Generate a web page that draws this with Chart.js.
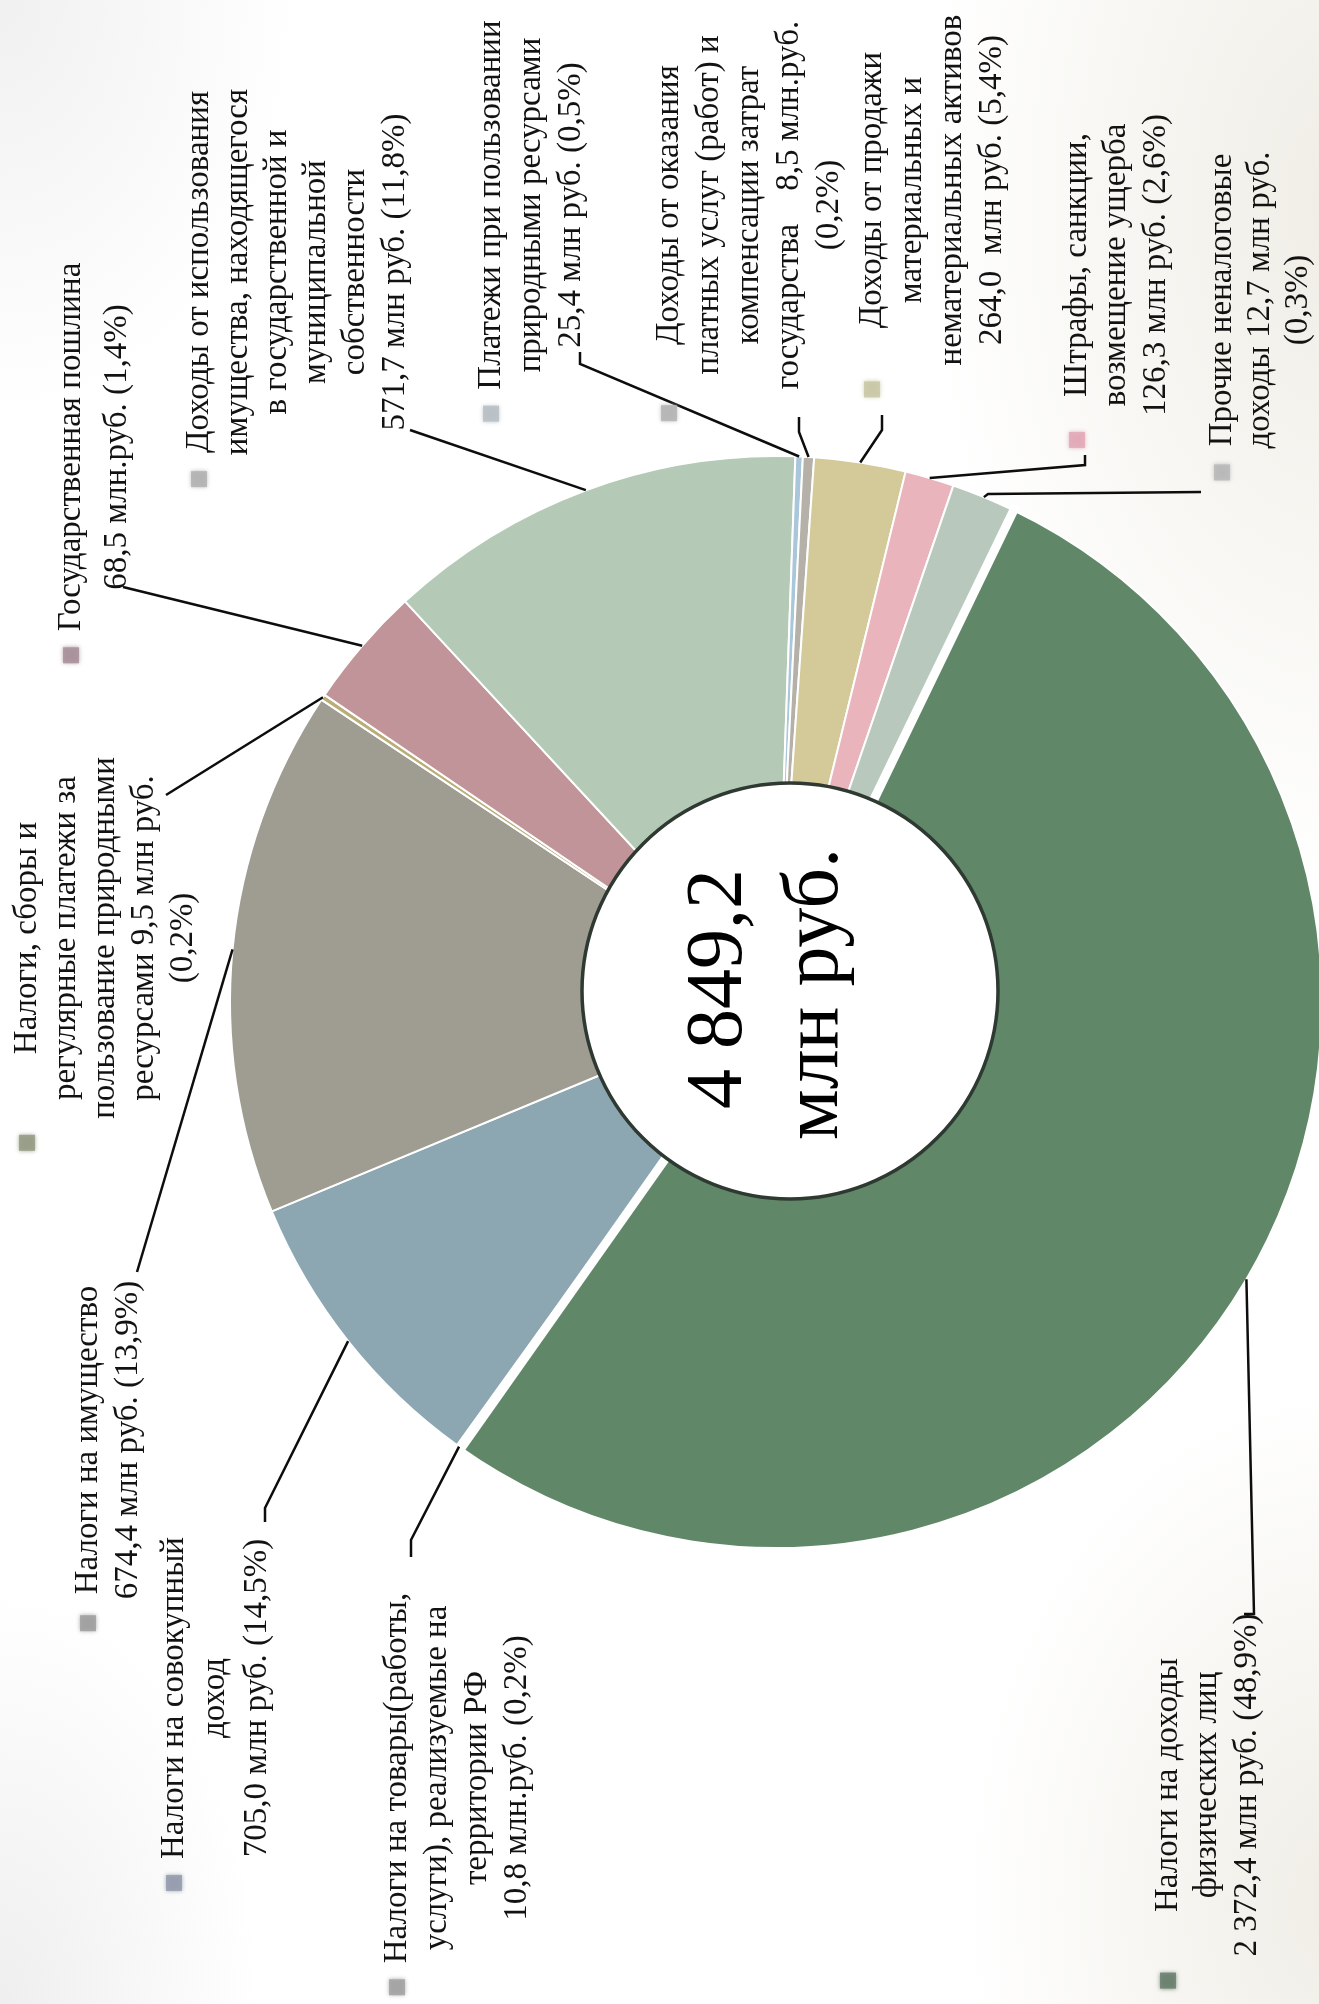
<!DOCTYPE html>
<html lang="ru">
<head>
<meta charset="utf-8">
<title>Структура доходов бюджета</title>
<script src="https://cdn.jsdelivr.net/npm/chart.js@4.4.1/dist/chart.umd.min.js"></script>
<style>
  html, body { margin: 0; padding: 0; width: 1319px; height: 2004px; overflow: hidden; background: #fff; }
  #wrap {
    position: absolute; left: 0; top: 0; width: 1340px; height: 2004px;
    background:
      radial-gradient(ellipse 420px 700px at 100% 10%, rgba(226, 222, 208, 0.55), rgba(255, 255, 255, 0) 100%),
      radial-gradient(ellipse 380px 520px at 100% 95%, rgba(226, 222, 208, 0.55), rgba(255, 255, 255, 0) 100%),
      radial-gradient(ellipse 300px 420px at 0% 0%, rgba(222, 222, 222, 0.45), rgba(255, 255, 255, 0) 100%),
      radial-gradient(ellipse 260px 420px at 0% 100%, rgba(222, 222, 222, 0.5), rgba(255, 255, 255, 0) 100%),
      #fff;
  }
</style>
</head>
<body>
<div id="wrap"><canvas id="pie" width="1340" height="2004"></canvas></div>
<script>
  /*
    ==================================================
    ====================== DATA ======================
    ==================================================
  */

  const categories = [
    'Налоги на доходы физических лиц',
    'Налоги на товары (работы, услуги), реализуемые на территории РФ',
    'Налоги на совокупный доход',
    'Налоги на имущество',
    'Налоги, сборы и регулярные платежи за пользование природными ресурсами',
    'Государственная пошлина',
    'Доходы от использования имущества, находящегося в государственной и муниципальной собственности',
    'Платежи при пользовании природными ресурсами',
    'Доходы от оказания платных услуг (работ) и компенсации затрат государства',
    'Доходы от продажи материальных и нематериальных активов',
    'Штрафы, санкции, возмещение ущерба',
    'Прочие неналоговые доходы'
  ];

  // млн руб., as printed in the labels
  const amounts = ['2 372,4', '10,8', '705,0', '674,4', '9,5', '68,5', '571,7', '25,4', '8,5', '264,0', '126,3', '12,7'];
  const percents = ['48,9', '0,2', '14,5', '13,9', '0,2', '1,4', '11,8', '0,5', '0,2', '5,4', '2,6', '0,3'];

  // size of each slice as it is drawn in the picture, % of the circle
  const shares = [52.6, 0.15, 8.8, 15.6, 0.17, 3.6, 12.45, 0.22, 0.33, 2.7, 1.45, 1.9];

  const totalText = ['4 849,2', 'млн руб.'];

  /*
    ==================================================
    ===================== STYLES =====================
    ==================================================
  */

  const sliceColors = ['#608768', '#a9a98c', '#8ca7b2', '#9f9c92', '#b9ad78', '#c09498',
                       '#b4cab6', '#a9c6da', '#b6b1a8', '#d4c998', '#eab4bc', '#b8c8bc'];
  const keyColors = ['#6b806f', '#a3a3a3', '#959cae', '#a0a0a0', '#979c86', '#a8909a',
                     '#b3b3b3', '#b8c0c6', '#b5b5b5', '#c9c8a6', '#e2a9b9', '#b8b8b8'];

  const FONT = '33px "Liberation Serif", "DejaVu Serif", serif';
  const BIG_FONT = '80px "Liberation Serif", "DejaVu Serif", serif';

  // label blocks: x of first text column, y of block centre, gap between columns,
  // label-side leader points (page is read turned 90°, text runs upward)
  const labelLayout = [
    { x: 1168, y: 1785, gap: 39.5, lines: ['Налоги на доходы', 'физических лиц', '{v} млн руб. ({p}%)'], lead: [[1244, 1614], [1254, 1614]] },
    { x: 397, y: 1778, gap: 40, lines: ['Налоги на товары(работы,', 'услуги), реализуемые на', 'территории РФ', '{v} млн.руб. ({p}%)'], lead: [[411, 1557], [411, 1540]] },
    { x: 174, y: 1698, gap: 41.5, lines: ['Налоги на совокупный', 'доход', '{v} млн руб. ({p}%)'], lead: [[265, 1522], [265, 1508]] },
    { x: 88, y: 1440, gap: 40, lines: ['Налоги на имущество', '{v} млн руб. ({p}%)'], lead: [[137, 1272]] },
    { x: 27, y: 938, gap: 39, lines: ['Налоги, сборы и', 'регулярные платежи за', 'пользование природными', 'ресурсами {v} млн руб.', '({p}%)'], lead: [[166, 795]] },
    { x: 71, y: 447, gap: 46, lines: ['Государственная пошлина', '{v} млн.руб. ({p}%)'], lead: [[123, 587]] },
    { x: 199, y: 272, gap: 39.2, lines: ['Доходы от использования', 'имущества, находящегося', 'в государственной и', 'муниципальной', 'собственности', '{v} млн руб. ({p}%)'], lead: [[410, 430]] },
    { x: 491, y: 205, gap: 40, lines: ['Платежи при пользовании', 'природными ресурсами', '{v} млн руб. ({p}%)'], lead: [[580, 352], [580, 364]] },
    { x: 669, y: 205, gap: 40, lines: ['Доходы от оказания', 'платных услуг (работ) и', 'компенсации затрат', 'государства    {v} млн.руб.', '({p}%)'], lead: [[799, 417], [799, 432]] },
    { x: 872, y: 190, gap: 40, lines: ['Доходы от продажи', 'материальных и', 'нематериальных активов', '{v}  млн руб. ({p}%)'], lead: [[882, 415], [882, 430]] },
    { x: 1077, y: 265, gap: 39.5, lines: ['Штрафы, санкции,', 'возмещение ущерба', '{v} млн руб. ({p}%)'], lead: [[1085, 455], [1085, 465]] },
    { x: 1222, y: 300, gap: 38, lines: ['Прочие неналоговые', 'доходы {v} млн руб.', '({p}%)'], lead: [[1201, 492], [988, 494]] }
  ];

  // white disc laid over the pie, relative to the pie centre
  const hole = { dx: 14, dy: -11, r: 208 };

  /*
    ==================================================
    ===================== PLUGIN =====================
    ==================================================
  */

  function drawLabel(ctx, L, i) {
    let lines = L.lines.map(s => s.replace('{v}', amounts[i]).replace('{p}', percents[i]));
    ctx.save();
    ctx.translate(L.x, L.y);
    ctx.rotate(-Math.PI / 2);
    ctx.font = FONT;
    ctx.fillStyle = '#121212';
    ctx.textAlign = 'center';
    ctx.textBaseline = 'middle';
    let maxW = 0;
    lines.forEach((s, k) => {
      ctx.fillText(s, 0, k * L.gap);
      maxW = Math.max(maxW, ctx.measureText(s).width);
    });
    // legend key in front of the first line, a bit soft like the scan
    ctx.globalAlpha = 0.85;
    ctx.shadowColor = keyColors[i];
    ctx.shadowBlur = 4;
    ctx.fillStyle = keyColors[i];
    ctx.fillRect(-maxW / 2 - 32, -8, 16, 16);
    ctx.restore();
  }

  const overlayPlugin = {
    id: 'overlay',
    afterDatasetsDraw(chart) {
      let ctx = chart.ctx;
      let arcs = chart.getDatasetMeta(0).data;

      // wide white gaps on both sides of the largest slice
      let big = arcs[0];
      ctx.save();
      ctx.strokeStyle = '#fff';
      ctx.lineWidth = 9;
      [big.startAngle, big.endAngle].forEach(a => {
        ctx.beginPath();
        ctx.moveTo(big.x, big.y);
        ctx.lineTo(big.x + Math.cos(a) * (big.outerRadius + 6), big.y + Math.sin(a) * (big.outerRadius + 6));
        ctx.stroke();
      });
      ctx.restore();

      // leader lines, ending at the middle of each slice's rim
      ctx.save();
      ctx.strokeStyle = '#0d0d0d';
      ctx.lineWidth = 2.5;
      arcs.forEach((arc, i) => {
        let mid = (arc.startAngle + arc.endAngle) / 2;
        let px = arc.x + Math.cos(mid) * arc.outerRadius;
        let py = arc.y + Math.sin(mid) * arc.outerRadius;
        let pts = labelLayout[i].lead;
        ctx.beginPath();
        ctx.moveTo(pts[0][0], pts[0][1]);
        pts.slice(1).forEach(p => ctx.lineTo(p[0], p[1]));
        ctx.lineTo(px, py);
        ctx.stroke();
      });
      ctx.restore();

      // centre disc with the total
      let cx = big.x + hole.dx;
      let cy = big.y + hole.dy;
      ctx.save();
      ctx.beginPath();
      ctx.arc(cx, cy, hole.r, 0, Math.PI * 2);
      ctx.fillStyle = '#fff';
      ctx.fill();
      ctx.lineWidth = 3.5;
      ctx.strokeStyle = '#2e3a31';
      ctx.stroke();
      ctx.translate(cx, cy);
      ctx.rotate(-Math.PI / 2);
      ctx.font = BIG_FONT;
      ctx.fillStyle = '#000';
      ctx.textAlign = 'center';
      ctx.textBaseline = 'alphabetic';
      ctx.fillText(totalText[0], 2, -49);
      ctx.fillText(totalText[1], -3, 47);
      ctx.restore();

      labelLayout.forEach((L, i) => drawLabel(ctx, L, i));
    }
  };

  /*
    ==================================================
    ====================== CHART ======================
    ==================================================
  */

  new Chart(document.getElementById('pie').getContext('2d'), {
    type: 'pie',
    data: {
      labels: categories,
      datasets: [{
        data: shares,
        backgroundColor: sliceColors,
        borderColor: '#ffffff',
        borderWidth: 2,
        hoverBorderWidth: 2,
        hoverOffset: 0,
        offset: 0
      }]
    },
    options: {
      responsive: false,
      devicePixelRatio: 1,
      animation: false,
      events: [],
      rotation: 25.8,
      layout: { padding: { left: 229, top: 455, right: 17, bottom: 455 } },
      plugins: {
        legend: { display: false },
        tooltip: { enabled: false }
      }
    },
    plugins: [overlayPlugin]
  });
</script>
</body>
</html>
